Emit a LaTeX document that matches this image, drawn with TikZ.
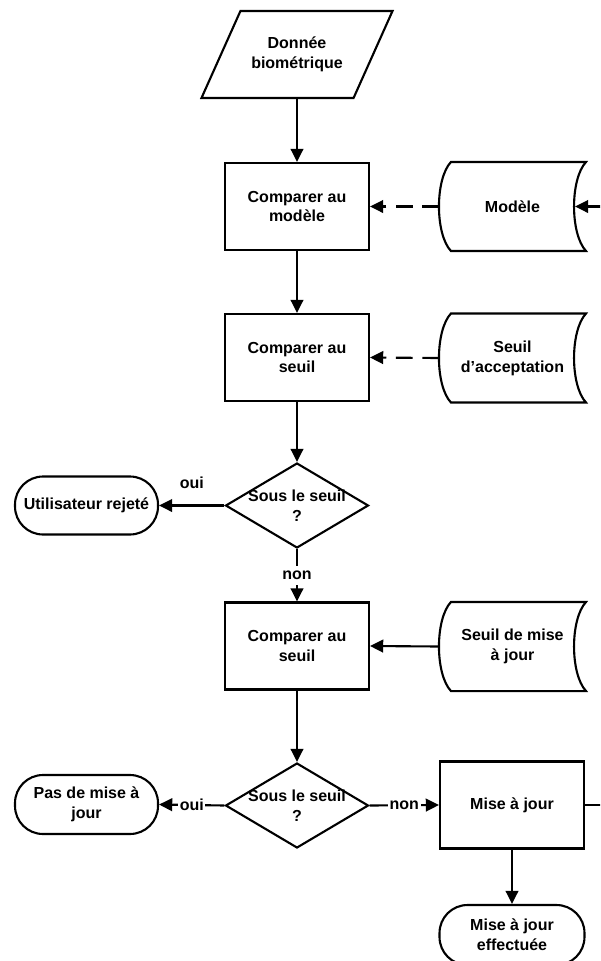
\documentclass[tikz,border=0pt]{standalone}
\usepackage{fontspec}
\setmainfont{Liberation Sans}
\usetikzlibrary{arrows.meta,calc,shapes.geometric}
\begin{document}
\begin{tikzpicture}[x=0.02cm, y=-0.02cm, line width=1.2pt,
  every node/.style={font=\bfseries\fontsize{9.1}{11.3}\selectfont, align=center},
  box/.style={draw, minimum width=2.88cm, minimum height=1.74cm},
  store/.style={minimum width=2.9cm, minimum height=1.74cm},
  decision/.style={draw, diamond, minimum width=2.86cm, minimum height=1.7cm, inner sep=0pt},
  term/.style={draw, rounded corners=0.56cm, minimum width=2.86cm, minimum height=1.16cm, inner sep=1pt},
  flow/.style={-{Triangle[length=7.5pt,width=7.2pt]}},
  dashflow/.style={flow, dash pattern=on 9.5pt off 5.5pt},
  lab/.style={fill=white, inner sep=1pt}]
  \useasboundingbox (0,0) rectangle (600,961);
  \clip (0,0) rectangle (600,961);
  % main column
  \node[minimum width=3cm, minimum height=1.7cm] (donnee) at (297,54.5) {Donnée\\biométrique};
  \draw ($(donnee.north west)+(19.5,0)$) -- ($(donnee.north east)+(19.5,0)$)
    -- ($(donnee.south east)+(-19.5,0)$) -- ($(donnee.south west)+(-19.5,0)$) -- cycle;
  \node[box] (cmpmod) at (297,206.5) {Comparer au\\modèle};
  \node[box] (cmpacc) at (297,357.5) {Comparer au\\seuil};
  \node[decision, label={center:Sous le seuil\\?}] (test1) at (297,505.5) {};
  \node[term] (rejete) at (86.5,505.5) {Utilisateur rejeté};
  \node[box] (cmpmaj) at (297,646) {Comparer au\\seuil};
  \node[decision, label={center:Sous le seuil\\?}] (test2) at (297,805.5) {};
  \node[term, minimum height=1.18cm] (pasmaj) at (86.5,804.5) {Pas de mise à\\jour};
  \node[box] (maj) at (512,805) {Mise à jour};
  \node[term, minimum width=2.9cm, minimum height=1.2cm] (effect) at (512,935) {Mise à jour\\effectuée};
  % stored data
  \node[store] (modele) at (512.5,206.5) {Modèle};
  \node[store] (seuilacc) at (512.5,358) {Seuil\\d’acceptation};
  \node[store] (seuilmaj) at (512.5,646.5) {Seuil de mise\\à jour};
  \foreach \n in {modele,seuilacc,seuilmaj}
    \draw ($(\n.north west)+(12,0)$) -- (\n.north east)
      .. controls ($(\n.north east)+(-16,17)$) and ($(\n.south east)+(-16,-17)$) .. (\n.south east)
      -- ($(\n.south west)+(12,0)$)
      .. controls ($(\n.south west)+(-4,-17)$) and ($(\n.north west)+(-4,17)$) .. cycle;
  % connectors
  \draw[flow] (donnee.south) -- (cmpmod.north);
  \draw[dashflow] (modele.west) -- (cmpmod.east);
  \draw[flow] (cmpmod) -- (cmpacc);
  \draw[dashflow] (seuilacc.west) -- (cmpacc.east);
  \draw[flow] (cmpacc) -- (test1);
  \draw[flow] (test1.west) -- node[above=5.5pt]{oui} (rejete.east);
  \draw[flow] (test1.south) -- node[lab, inner sep=3pt]{non} (cmpmaj.north);
  \draw[flow] (seuilmaj.west) -- (cmpmaj.east);
  \draw[flow] (cmpmaj) -- (test2);
  \draw[flow] (test2.west) -- node[lab]{oui} (pasmaj.east);
  \draw[flow] (test2.east) -- node[lab]{non} (maj.west);
  \draw[flow] (maj) -- (effect);
  \draw[flow] (maj.east) -- ++(40,0) |- ($(modele.east)+(-11,0)$);
\end{tikzpicture}
\end{document}
